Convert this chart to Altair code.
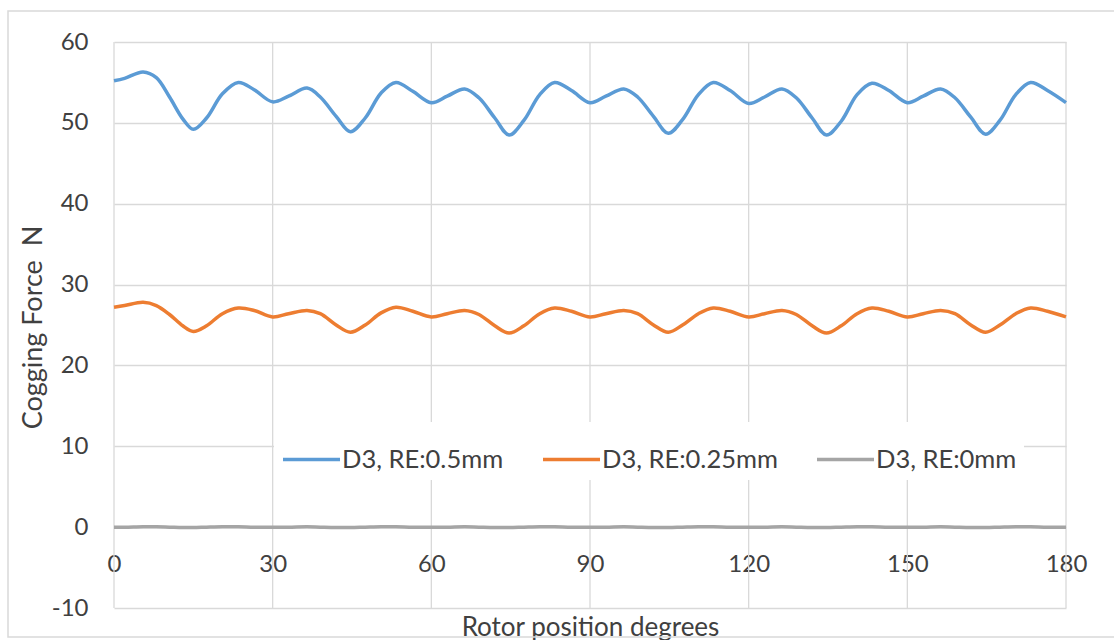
import altair as alt
import pandas as pd

# Rotor position (degrees)
deg = [0, 2, 5.5, 8, 10.5, 13, 15, 17.5, 20.5, 23.5, 26.5, 30,
       33, 36.5, 39, 42, 44.7, 47.5, 50.5, 53.3, 56.5, 60,
       63, 66.3, 69, 72, 74.7, 77.5, 80.5, 83.3, 86.5, 90,
       93, 96.4, 99, 102, 104.8, 107.5, 110.5, 113.3, 116.5, 120,
       123, 126.3, 129, 132, 134.7, 137.5, 140.5, 143.3, 146.5, 150,
       153, 156.3, 159, 162, 164.8, 167.5, 170.5, 173.3, 176.5, 180]

re_05 = [55.2, 55.5, 56.3, 55.6, 53.2, 50.5, 49.2, 50.6, 53.6, 55.0, 54.1, 52.6,
         53.3, 54.3, 53.2, 50.8, 48.9, 50.6, 53.7, 55.0, 53.9, 52.5,
         53.3, 54.2, 53.1, 50.6, 48.5, 50.3, 53.5, 55.0, 54.0, 52.5,
         53.3, 54.2, 53.2, 50.8, 48.7, 50.4, 53.5, 55.0, 54.0, 52.4,
         53.2, 54.2, 53.1, 50.6, 48.5, 50.2, 53.5, 54.9, 54.0, 52.5,
         53.3, 54.2, 53.1, 50.7, 48.6, 50.3, 53.5, 55.0, 54.0, 52.5]

re_025 = [27.2, 27.4, 27.8, 27.4, 26.3, 24.9, 24.2, 24.9, 26.4, 27.1, 26.8, 26.0,
          26.4, 26.8, 26.4, 25.0, 24.1, 25.0, 26.5, 27.2, 26.7, 26.0,
          26.4, 26.8, 26.3, 24.9, 24.0, 24.9, 26.4, 27.1, 26.7, 26.0,
          26.4, 26.8, 26.4, 25.0, 24.1, 25.0, 26.4, 27.1, 26.7, 26.0,
          26.4, 26.8, 26.3, 24.9, 24.0, 24.9, 26.4, 27.1, 26.7, 26.0,
          26.4, 26.8, 26.4, 25.0, 24.1, 25.0, 26.4, 27.1, 26.7, 26.0]

re_0 = [0.0, 0.0, 0.05, 0.05, 0.0, -0.05, -0.05, 0.0, 0.05, 0.05, 0.0, 0.0,
        0.0, 0.05, 0.0, -0.05, -0.05, 0.0, 0.05, 0.05, 0.0, 0.0,
        0.0, 0.05, 0.0, -0.05, -0.05, 0.0, 0.05, 0.05, 0.0, 0.0,
        0.0, 0.05, 0.0, -0.05, -0.05, 0.0, 0.05, 0.05, 0.0, 0.0,
        0.0, 0.05, 0.0, -0.05, -0.05, 0.0, 0.05, 0.05, 0.0, 0.0,
        0.0, 0.05, 0.0, -0.05, -0.05, 0.0, 0.05, 0.05, 0.0, 0.0]

series_names = ["D3, RE:0.5mm", "D3, RE:0.25mm", "D3, RE:0mm"]
series_colors = ["#5B9BD5", "#ED7D31", "#A5A5A5"]

x_ticks = [0, 30, 60, 90, 120, 150, 180]
y_ticks = [-10, 0, 10, 20, 30, 40, 50, 60]

rows = []
for name, vals in zip(series_names, [re_05, re_025, re_0]):
    for d, v in zip(deg, vals):
        rows.append({"deg": d, "force": v, "series": name})
df = pd.DataFrame(rows)

FONT = "Lato"
TXT = "#404040"
GRID = "#D9D9D9"

xscale = alt.Scale(domain=[0, 180], nice=False, zero=False)
yscale = alt.Scale(domain=[-10, 60], nice=False, zero=False)

x_axis = alt.Axis(
    values=x_ticks,
    orient="bottom",
    offset=-81,
    grid=False,
    domain=False,
    ticks=False,
    labelFlush=False,
    labelPadding=25,
    labelFontSize=24,
    labelFont=FONT,
    labelColor=TXT,
    titleFont=FONT,
    titleFontSize=26,
    titleFontWeight="normal",
    titleColor=TXT,
    titleY=108,
    titleBaseline="alphabetic",
)

vgrid = alt.Chart(pd.DataFrame({"g": x_ticks})).mark_rule(
    color=GRID, strokeWidth=1.3
).encode(x=alt.X("g:Q", scale=xscale, axis=x_axis, title="Rotor position degrees"))

frame = alt.Chart(alt.Data(values=[{"a": 1}])).mark_rect(
    fill=None, stroke=GRID, strokeWidth=1.5
).encode(
    x=alt.value(-106), x2=alt.value(1010), y=alt.value(-31), y2=alt.value(595)
)

lines = alt.Chart(df).mark_line(strokeWidth=3.5, interpolate="catmull-rom").encode(
    x=alt.X("deg:Q", scale=xscale, axis=x_axis, title="Rotor position degrees"),
    y=alt.Y(
        "force:Q",
        scale=yscale,
        title="Cogging Force\u00a0\u00a0N",
        axis=alt.Axis(
            values=y_ticks,
            labelExpr="datum.value + ''",
            grid=True,
            gridColor=GRID,
            gridWidth=1.3,
            domain=False,
            ticks=False,
            labelPadding=26,
            labelFontSize=24,
            labelFont=FONT,
            labelColor=TXT,
            titleFont=FONT,
            titleFontSize=27,
            titleFontWeight="normal",
            titleColor=TXT,
            titleX=-81,
            titleY=285,
            titleAngle=270,
            titleAlign="center",
            titleBaseline="middle",
        ),
    ),
    color=alt.Color(
        "series:N",
        scale=alt.Scale(domain=series_names, range=series_colors),
        sort=series_names,
        legend=alt.Legend(
            title=None,
            orient="none",
            direction="horizontal",
            legendX=160,
            legendY=380,
            symbolType="stroke",
            symbolSize=3249,
            symbolStrokeWidth=3.5,
            labelFont=FONT,
            labelFontSize=25.5,
            labelColor=TXT,
            labelLimit=400,
            labelOffset=0,
            columnPadding=32,
            fillColor="white",
            padding=7,
        ),
    ),
)

chart = alt.layer(vgrid, lines, frame).properties(
    width=952,
    height=566,
    padding={"left": 114, "top": 42, "right": 48, "bottom": 32},
    autosize="none",
    background="white",
).configure_view(stroke=None).configure_axis(
    labelFont=FONT, titleFont=FONT
)

chart.save("out.html", embed_options={"renderer": "svg", "actions": False})
